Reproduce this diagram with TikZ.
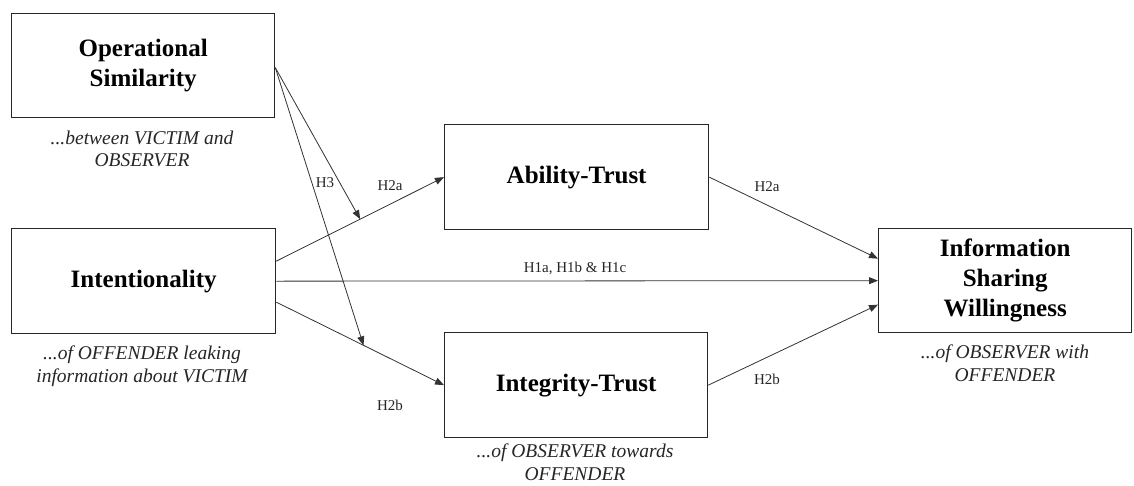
\documentclass[tikz,border=0pt]{standalone}
\usepackage{fontspec}
\setmainfont{Liberation Serif}
\usetikzlibrary{arrows.meta,calc}
\begin{document}
\begin{tikzpicture}[x=1pt,y=-1pt,
  box/.style={draw=black!85,line width=1.3pt,fill=white,anchor=north west,inner sep=0pt,align=center,
    font=\fontsize{25}{30}\selectfont\bfseries},
  note/.style={align=center,font=\fontsize{19.5}{22.5}\selectfont\itshape,text=black!85},
  conn/.style={draw=black!80,line width=0.8pt,-{Triangle[length=9pt,width=7pt]}},
  lbl/.style={font=\fontsize{15}{18}\selectfont,text=black!85}]
\fill[white] (0,0) rectangle (1134,485);
\useasboundingbox (0,0) rectangle (1134,485);

\node[box,minimum width=263pt,minimum height=104pt] (op) at (11,13) {Operational\\Similarity};
\node[box,minimum width=264pt,minimum height=105pt] (in) at (11,228) {Intentionality};
\node[box,minimum width=264pt,minimum height=105pt] (ab) at (444,124) {Ability-Trust};
\node[box,minimum width=263pt,minimum height=105pt] (it) at (444,332) {Integrity-Trust};
\node[box,minimum width=253pt,minimum height=104pt] (is) at (878,228) {Information\\Sharing\\Willingness};

\node[note] (n1) at (142,149) {...between VICTIM and\\OBSERVER};
\node[note] (n2) at (142,366) {...of OFFENDER leaking\\information about VICTIM};
\node[note] (n3) at (1005,363) {...of OBSERVER with\\OFFENDER};
\node[note] (n4) at (575,462) {...of OBSERVER towards\\OFFENDER};

\coordinate (ina) at ([yshift=20pt]in.east);
\coordinate (inb) at ([yshift=-21pt]in.east);

\draw[conn] (ina) -- (ab.west) coordinate[pos=0.5] (m1);
\draw[conn] (in.east) -- (is.west);
\draw[conn] (inb) -- (it.west) coordinate[pos=0.52] (m2);
\draw[conn] (ab.east) -- ([yshift=22pt]is.west);
\draw[conn] (it.east) -- ([yshift=-24pt]is.west);
\draw[conn] ([yshift=-2pt]op.east) -- (m1);
\draw[conn] ([yshift=-2pt]op.east) -- (m2);

\node[lbl] (l1) at (325,183) {H3};
\node[lbl] (l2) at (390,186) {H2a};
\node[lbl] (l3) at (575,268) {H1a, H1b \& H1c};
\node[lbl] (l4) at (390,405) {H2b};
\node[lbl] (l5) at (767,187) {H2a};
\node[lbl] (l6) at (767,379) {H2b};
\end{tikzpicture}
\end{document}
